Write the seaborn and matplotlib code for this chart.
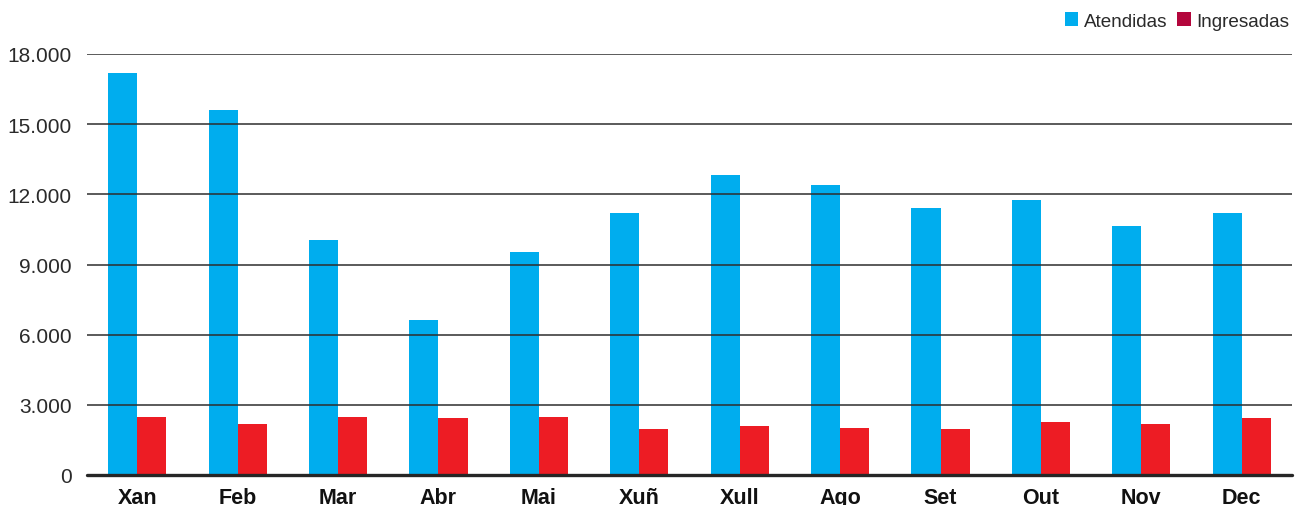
import matplotlib
matplotlib.use("Agg")
import matplotlib.pyplot as plt
import matplotlib.ticker as mticker
from matplotlib.patches import Patch
import seaborn as sns
import pandas as pd

months = ["Xan", "Feb", "Mar", "Abr", "Mai", "Xuñ", "Xull", "Ago", "Set", "Out", "Nov", "Dec"]
atendidas = [17200, 15600, 10050, 6630, 9540, 11200, 12830, 12400, 11420, 11760, 10650, 11200]
ingresadas = [2480, 2180, 2480, 2440, 2480, 1970, 2100, 2010, 1970, 2270, 2180, 2440]
series = ["Atendidas", "Ingresadas"]
yticks = [0, 3000, 6000, 9000, 12000, 15000, 18000]

df = pd.DataFrame({
    "mes": months * 2,
    "serie": [series[0]] * len(months) + [series[1]] * len(months),
    "valor": atendidas + ingresadas,
})

sns.set_theme(style="white")
plt.rcParams["font.family"] = ["Liberation Sans", "DejaVu Sans"]

fig = plt.figure(figsize=(12.96, 5.06), dpi=100)
ax = fig.add_axes([87 / 1296, 1 - 476 / 506, 1205 / 1296, (476 - 55) / 506])

sns.barplot(data=df, x="mes", y="valor", hue="serie", order=months, hue_order=series,
            palette=["#00adee", "#ed1c24"], width=0.58, gap=0, saturation=1,
            linewidth=0, edgecolor="none",
            ax=ax, legend=False, zorder=2)

ax.set_ylim(0, 18000)
ax.set_xlim(-0.5, len(months) - 0.5)
ax.set_yticks(yticks)
ax.yaxis.set_major_formatter(mticker.FuncFormatter(lambda v, p: f"{int(v):,}".replace(",", ".")))
ax.yaxis.grid(True, color="#2e2e2e", linewidth=1.1, zorder=3)
ax.set_axisbelow(False)
for b in ax.patches:
    b.set_zorder(1)
    b.set_linewidth(0)
ax.axhline(0, color="#262626", linewidth=2.4, zorder=4, clip_on=False)
for s in ax.spines.values():
    s.set_visible(False)
ax.set_xlabel("")
ax.set_ylabel("")
ax.tick_params(axis="y", length=0, pad=11, labelsize=15, labelcolor="#2a2a2a")
ax.tick_params(axis="x", length=0, pad=9, labelsize=15.5, labelcolor="#111111")
for t in ax.get_xticklabels():
    t.set_fontweight("bold")

handles = [Patch(facecolor="#00adee", edgecolor="none"), Patch(facecolor="#b3063c", edgecolor="none")]
fig.legend(handles, series, loc="upper right", bbox_to_anchor=(1.005, 1.0), ncol=2, frameon=False,
           fontsize=13.6, handlelength=0.72, handleheight=0.72, handletextpad=0.3, columnspacing=0.5,
           labelcolor="#2a2a2a", borderaxespad=0.3)

fig.savefig("out.png", dpi=100)
